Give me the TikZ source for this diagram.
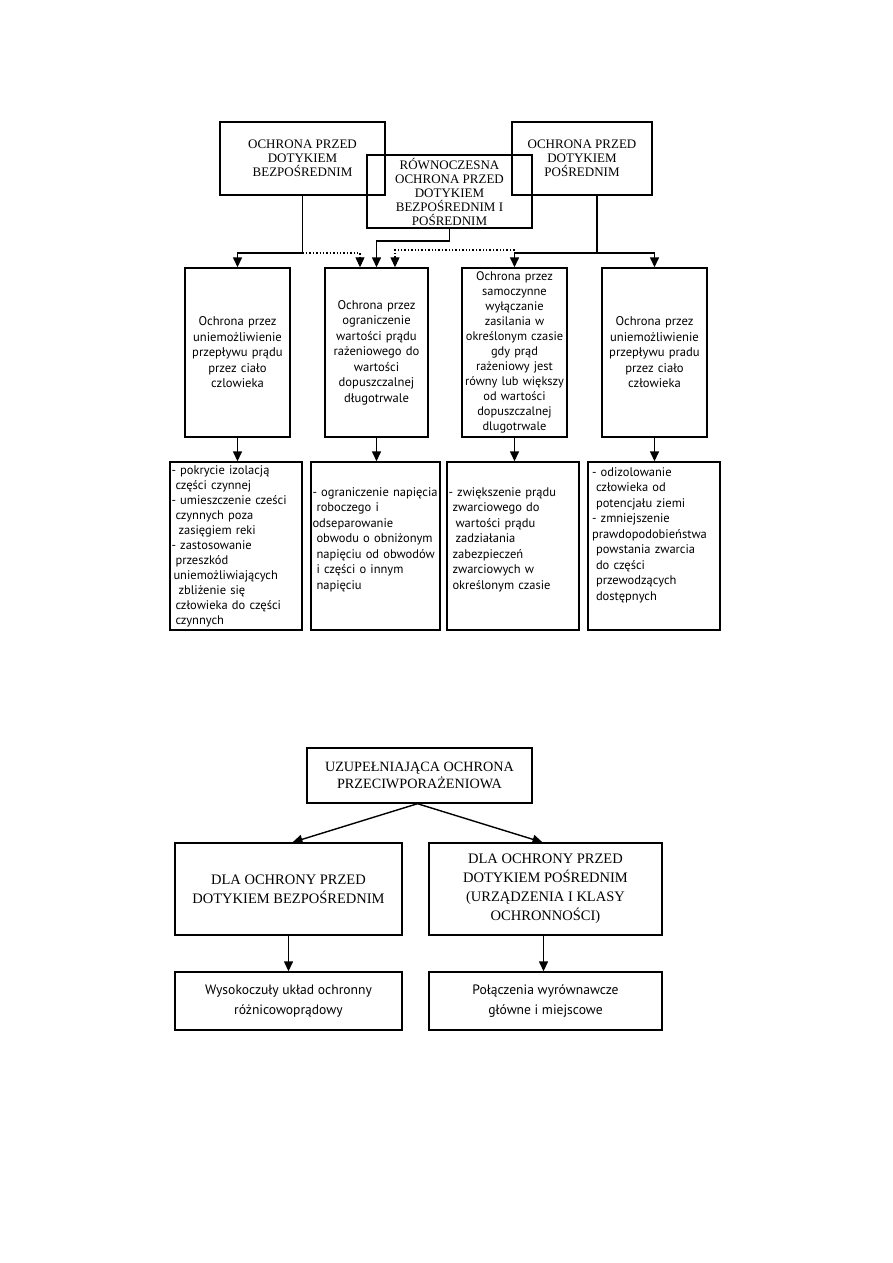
\documentclass[tikz,border=0pt]{standalone}
\usepackage{fontspec}
\setmainfont{Liberation Serif}
\newfontfamily\sansf{PT Sans}
\usetikzlibrary{arrows.meta,calc}
\newcommand{\bl}[2][0pt]{\mbox{\hspace*{#1}#2}}
\begin{document}
\begin{tikzpicture}[x=1pt,y=-1pt,
  every path/.style={line width=1.4pt},
  tri/.style={-{Triangle[length=10pt,width=9pt]}},
  dots/.style={dotted, line width=1.1pt},
  capbox/.style={draw, line width=1.4pt, align=center, inner sep=0pt,
     font=\fontsize{13}{14}\selectfont},
  midbox/.style={draw, line width=1.4pt, align=center, inner sep=0pt,
     font=\sansf\fontsize{12.6}{15.5}\selectfont, minimum height=169pt},
  listbox/.style={draw, line width=1.4pt, align=left, inner ysep=0pt,
     font=\sansf\fontsize{12.5}{15.5}\selectfont, minimum height=168pt},
  bigbox/.style={draw, line width=1.4pt, align=center, inner sep=0pt,
     font=\fontsize{14.5}{19}\selectfont, minimum height=92pt},
  lowbox/.style={draw, line width=1.4pt, align=center, inner sep=0pt,
     font=\sansf\fontsize{13.6}{20}\selectfont, minimum height=58pt}
]
\path[use as bounding box] (0,0) rectangle (893,1263);
\fill[white] (0,0) rectangle (893,1263);

% top row
\node[capbox, minimum width=165pt, minimum height=73pt] (A) at (302.5,158.5)
  {OCHRONA PRZED\\DOTYKIEM\\BEZPOŚREDNIM};
\node[capbox, minimum width=140pt, minimum height=73pt] (B) at (582,158.5)
  {OCHRONA PRZED\\DOTYKIEM\\POŚREDNIM};
\node[capbox, minimum width=165pt, minimum height=73pt] (C) at (449.5,191.5)
  {RÓWNOCZESNA\\OCHRONA PRZED\\DOTYKIEM\\BEZPOŚREDNIM I\\POŚREDNIM};

% second row
\node[midbox, text width=105pt, minimum width=105pt] (D1) at (237.5,352.5)
  {Ochrona przez\\uniemożliwienie\\\bl{przepływu prądu}\\przez ciało\\czlowieka};
\node[midbox, text width=103pt, minimum width=103pt] (D2) at (376.5,352.5)
  {Ochrona przez\\ograniczenie\\\bl{wartości prądu}\\\bl{rażeniowego do}\\wartości\\dopuszczalnej\\długotrwale};
\node[midbox, text width=105pt, minimum width=105pt,
  font=\sansf\fontsize{12.4}{15}\selectfont] (D3) at (514.5,352.5)
  {Ochrona przez\\samoczynne\\wyłączanie\\zasilania w\\\bl{określonym czasie}\\gdy prąd\\\bl{rażeniowy jest}\\\bl{równy lub większy}\\od wartości\\dopuszczalnej\\dlugotrwale};
\node[midbox, text width=105pt, minimum width=105pt] (D4) at (654.5,352.5)
  {Ochrona przez\\uniemożliwienie\\\bl{przepływu pradu}\\przez ciało\\człowieka};

% third row
\node[listbox, inner xsep=1.5pt, text width=129pt,
  font=\sansf\fontsize{12.5}{15}\selectfont] (E1) at (236,546)
  {\bl{- pokrycie izolacją}\\
   \bl[4pt]{części czynnej}\\
   \bl{- umieszczenie cześci}\\
   \bl[4pt]{czynnych poza}\\
   \bl[7pt]{zasięgiem reki}\\
   \bl{- zastosowanie}\\
   \bl[4pt]{przeszkód}\\
   \bl[2pt]{uniemożliwiających}\\
   \bl[7pt]{zbliżenie się}\\
   \bl[4pt]{człowieka do części}\\
   \bl[4pt]{czynnych}};
\node[listbox, inner xsep=1.5pt, text width=126pt] (E2) at (375.5,546)
  {\bl{- ograniczenie napięcia}\\
   \bl[4pt]{roboczego i}\\
   \bl{odseparowanie}\\
   \bl[4pt]{obwodu o obniżonym}\\
   \bl[4pt]{napięciu od obwodów}\\
   \bl[4pt]{i części o innym}\\
   \bl[4pt]{napięciu}\\ \mbox{}};
\node[listbox, inner xsep=1.5pt, text width=129pt] (E3) at (513,546)
  {\bl{- zwiększenie prądu}\\
   \bl[4pt]{zwarciowego do}\\
   \bl[7pt]{wartości prądu}\\
   \bl[7pt]{zadziałania}\\
   \bl[4pt]{zabezpieczeń}\\
   \bl[4pt]{zwarciowych w}\\
   \bl[4pt]{określonym czasie}\\ \mbox{}};
\node[listbox, inner xsep=4pt, text width=124pt] (E4) at (654,546)
  {\bl{- odizolowanie}\\
   \bl[4pt]{człowieka od}\\
   \bl[4pt]{potencjału ziemi}\\
   \bl{- zmniejszenie}\\
   \bl{prawdopodobieństwa}\\
   \bl[4pt]{powstania zwarcia}\\
   \bl[4pt]{do części}\\
   \bl[4pt]{przewodzących}\\
   \bl[4pt]{dostępnych}\\[9pt] \mbox{}};

% top connectors
\coordinate (jA) at (302.5,253);
\coordinate (jC) at (449.5,241);
\coordinate (jB) at (597,253);
\draw[tri] (A.south) -- (jA) -| (D1.north);
\draw[dots, tri] (jA) -| ([xshift=-16.5pt]D2.north);
\draw[tri] (C.south) -- (jC) -| (D2.north);
\draw[tri] (B.south -| jB) -- (jB) -| (D3.north);
\draw[tri] (jB) -| (D4.north);
\draw[dots, tri] (D3.north |- jB) ++(0,-3) -| ([xshift=18.5pt]D2.north);

% row 2 -> row 3
\draw[tri] (D1.south) -- (D1.south |- E1.north);
\draw[tri] (D2.south) -- (D2.south |- E2.north);
\draw[tri] (D3.south) -- (D3.south |- E3.north);
\draw[tri] (D4.south) -- (D4.south |- E4.north);

% bottom section
\node[capbox, minimum width=225pt, minimum height=55pt,
  font=\fontsize{14.2}{17}\selectfont] (F) at (419.5,775.5)
  {UZUPEŁNIAJĄCA OCHRONA\\PRZECIWPORAŻENIOWA};
\node[bigbox, minimum width=227pt] (G1) at (288.5,889)
  {DLA OCHRONY PRZED\\DOTYKIEM BEZPOŚREDNIM};
\node[bigbox, minimum width=233pt] (G2) at (545.5,889)
  {DLA OCHRONY PRZED\\DOTYKIEM POŚREDNIM\\(URZĄDZENIA I KLASY\\OCHRONNOŚCI)};
\node[lowbox, minimum width=227pt] (H1) at (288.5,1001)
  {Wysokoczuły układ ochronny\\różnicowoprądowy};
\node[lowbox, minimum width=233pt] (H2) at (545.5,1001)
  {Połączenia wyrównawcze\\główne i miejscowe};

\draw[tri] ([xshift=-2pt]F.south) -- ([xshift=4pt]G1.north);
\draw[tri] ([xshift=-2pt]F.south) -- ([xshift=-3pt]G2.north);
\draw[tri] (G1.south) -- (H1.north);
\draw[tri] ([xshift=-2pt]G2.south) -- ([xshift=-2pt]G2.south |- H2.north);
\end{tikzpicture}
\end{document}
